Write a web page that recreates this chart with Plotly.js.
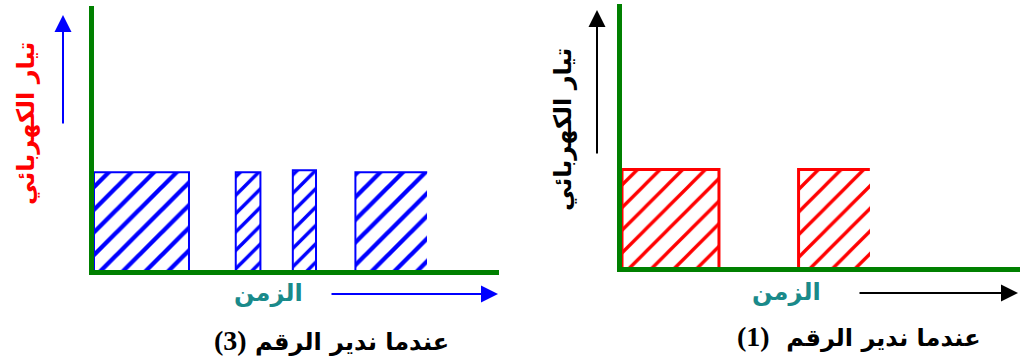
<!DOCTYPE html>
<html>
<head>
<meta charset="utf-8">
<script src="https://cdn.plot.ly/plotly-3.0.1.min.js"></script>
<style>
  html, body { margin: 0; padding: 0; background: #fff; }
  #chart { width: 1020px; height: 364px; }
</style>
</head>
<body>
<div id="chart"></div>
<script>
// Current pulses over time for two dial positions.
// Pulse start / end times (arbitrary time units) and current level.
const dial3Start  = [0.0, 3.85, 5.40, 7.10];
const dial3End    = [2.58, 4.52, 6.03, 9.05];
const dial3Level  = [1.0, 1.0, 1.02, 1.0];
const dial3Closed = [true, true, true, false];   // last pulse still running

const dial1Start  = [0.0, 4.88];
const dial1End    = [2.68, 6.85];
const dial1Level  = [1.0, 1.0];
const dial1Closed = [true, false];

const yLabel   = 'تيار الكهربائي';
const xLabel   = 'الزمن';
const captionText = 'عندما ندير الرقم';
const dialNumbers = ['(3)', '(1)'];

const BLUE = '#0000ff';
const RED = '#ff0000';
const GREEN = '#008000';
const TEAL = '#1a8a8a';
const AR_FONT = 'DejaVu Sans, sans-serif';
const NUM_FONT = 'Liberation Serif, serif';

function pulseBars(starts, ends, levels, color, sizes, solidity, xa, ya) {
  return {
    type: 'bar',
    x: starts,
    y: levels,
    width: starts.map((s, i) => ends[i] - s),
    offset: 0,
    xaxis: xa, yaxis: ya,
    marker: {
      color: 'white',
      line: { width: 0 },
      pattern: { shape: '/', fgcolor: color, bgcolor: 'white', size: sizes, solidity: solidity }
    },
    hoverinfo: 'skip',
    showlegend: false
  };
}

// Outline of each pulse: left edge, top, and right edge when the pulse has ended.
function pulseOutline(starts, ends, levels, closed, color, w, xa, ya) {
  const xs = [], ys = [];
  starts.forEach((s, i) => {
    xs.push(s, s, ends[i]);
    ys.push(0, levels[i], levels[i]);
    if (closed[i]) { xs.push(ends[i]); ys.push(0); }
    xs.push(null); ys.push(null);
  });
  return {
    type: 'scatter', mode: 'lines', x: xs, y: ys,
    xaxis: xa, yaxis: ya,
    line: { color: color, width: w },
    hoverinfo: 'skip', showlegend: false, connectgaps: false
  };
}

const data = [
  pulseBars(dial3Start, dial3End, dial3Level, BLUE, [16, 13, 13, 16], 0.27, 'x', 'y'),
  pulseOutline(dial3Start, dial3End, dial3Level, dial3Closed, BLUE, 2, 'x', 'y'),
  pulseBars(dial1Start, dial1End, dial1Level, RED, [16, 16], 0.21, 'x2', 'y2'),
  pulseOutline(dial1Start, dial1End, dial1Level, dial1Closed, RED, 3, 'x2', 'y2')
];

const W = 1020, H = 364;
const px = v => v / W;
const py = v => 1 - v / H;

const axisBase = {
  showgrid: false, zeroline: false, showticklabels: false, ticks: '',
  showline: true, linecolor: GREEN, linewidth: 5, fixedrange: true
};

function arrow(x, y, ax, ay, color) {
  return {
    xref: 'paper', yref: 'paper', x: px(x), y: py(y),
    ax: ax, ay: ay, axref: 'pixel', ayref: 'pixel',
    text: '', showarrow: true, arrowhead: 2, arrowsize: 1.7,
    arrowwidth: 2, arrowcolor: color, standoff: 0, startstandoff: 0
  };
}

function label(text, x, y, size, color, angle) {
  return {
    xref: 'paper', yref: 'paper', x: px(x), y: py(y),
    xanchor: 'center', yanchor: 'middle', showarrow: false,
    text: '<b>' + text + '</b>', textangle: angle || 0,
    font: { family: AR_FONT, size: size, color: color }
  };
}

function caption(num, sep, x, y) {
  return label(captionText + sep +
    '<span style="font-family:' + NUM_FONT + ';font-size:28px;font-weight:bold">' + num + '</span>',
    x, y, 24, 'black');
}

const layout = {
  width: W, height: H,
  margin: { l: 0, r: 0, t: 0, b: 0 },
  paper_bgcolor: 'white', plot_bgcolor: 'white',
  bargap: 0,
  xaxis:  Object.assign({}, axisBase, { domain: [px(94), px(499)], range: [0, 11], anchor: 'y' }),
  yaxis:  Object.assign({}, axisBase, { domain: [py(270), py(6)], range: [0, 2.7], anchor: 'x' }),
  xaxis2: Object.assign({}, axisBase, { domain: [px(622), px(1020)], range: [0, 11], anchor: 'y2' }),
  yaxis2: Object.assign({}, axisBase, { domain: [py(267), py(4)], range: [0, 2.7], anchor: 'x2' }),
  annotations: [
    arrow(63, 15, 0, 110, BLUE),
    arrow(498, 294, -168, 0, BLUE),
    arrow(597, 10, 0, 145, 'black'),
    arrow(1018, 293, -160, 0, 'black'),
    label(yLabel, 26, 124, 24, RED, -90),
    label(yLabel, 563, 130, 24, 'black', -90),
    label(xLabel, 268, 293, 24, TEAL),
    label(xLabel, 786, 292, 24, TEAL),
    caption(dialNumbers[0], ' ', 331, 340),
    caption(dialNumbers[1], '  ', 859, 336)
  ]
};

Plotly.newPlot('chart', data, layout, { staticPlot: true, displayModeBar: false });
</script>
</body>
</html>
